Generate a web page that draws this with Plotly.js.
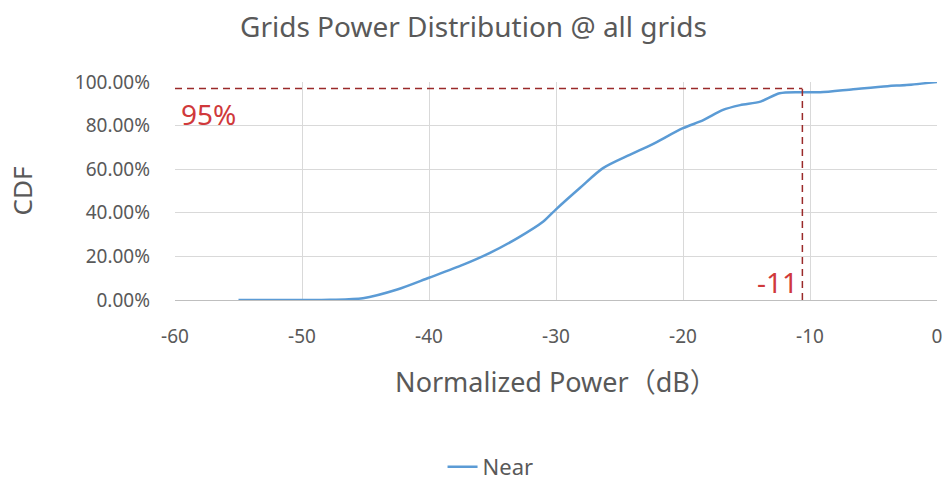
<!DOCTYPE html>
<html>
<head>
<meta charset="utf-8">
<script src="https://cdn.plot.ly/plotly-3.0.1.min.js"></script>
<style>html,body{margin:0;padding:0;background:#fff;}#chart{width:947px;height:483px;}</style>
</head>
<body>
<div id="chart"></div>
<script>
// Data
const seriesName = "Near";
const powerDb = [-55, -50, -47.8, -45.2, -42.5, -40, -37.3, -35.2, -33, -31, -30, -28.1, -26.3, -24.2, -22.5, -20, -18.4, -16.9, -15.5, -13.9, -12.4, -10.8, -9.2, -6.6, -3.9, -2.4, 0];
const cdf = [0, 0, 0.001, 0.008, 0.048, 0.102, 0.162, 0.216, 0.285, 0.36, 0.416, 0.515, 0.605, 0.666, 0.712, 0.788, 0.825, 0.871, 0.894, 0.91, 0.948, 0.953, 0.953, 0.967, 0.981, 0.986, 1.0];
const xTicks = [-60, -50, -40, -30, -20, -10, 0];
const yTicks = [0, 0.2, 0.4, 0.6, 0.8, 1.0];
const refLevel = 0.97;       // horizontal dashed marker level
const refPower = -10.6;      // vertical dashed marker position
const refLevelLabel = "95%";
const refPowerLabel = "-11";

const FONT = "Noto Sans, Noto Sans CJK SC, sans-serif";
const refColor = "#9a2a2a";
const labelColor = "#d0393b";
const textColor = "#595959";

const trace = {
  x: powerDb, y: cdf, name: seriesName, type: "scatter", mode: "lines",
  line: {color: "#5b9bd5", width: 2.5, shape: "spline", smoothing: 0.8}
};

const layout = {
  width: 947, height: 483,
  margin: {l: 175, r: 10, t: 82, b: 183},
  paper_bgcolor: "#ffffff", plot_bgcolor: "#ffffff",
  font: {family: FONT, color: textColor, size: 19},
  title: {text: "Grids Power Distribution @ all grids", x: 0.5, xanchor: "center", y: 1 - 27/483, yanchor: "middle",
          font: {family: FONT, size: 28, color: textColor}},
  xaxis: {
    range: [-60, 0], tickvals: xTicks, ticktext: xTicks.map(String),
    showgrid: true, gridcolor: "#d9d9d9", gridwidth: 1, zeroline: false,
    showline: true, linecolor: "#bfbfbf", linewidth: 1, ticks: "",
    ticklabelstandoff: 19,
    tickfont: {family: FONT, size: 19, color: textColor},
    title: {text: "Normalized Power（dB）", font: {family: FONT, size: 27, color: textColor}, standoff: 25}
  },
  yaxis: {
    range: [0, 1], tickvals: yTicks, tickformat: ".2%",
    showgrid: true, gridcolor: "#d9d9d9", gridwidth: 1, zeroline: false,
    showline: false, ticks: "", ticklabelstandoff: 24,
    tickfont: {family: FONT, size: 19, color: textColor},
    title: {text: "CDF", font: {family: FONT, size: 26, color: textColor}, standoff: 34}
  },
  showlegend: true,
  legend: {orientation: "h", xref: "container", yref: "container", x: 0.518, xanchor: "center", y: 1 - 467/483, yanchor: "middle",
           font: {family: FONT, size: 22, color: textColor}},
  shapes: [
    {type: "line", xref: "x", yref: "y", x0: -60, x1: refPower, y0: refLevel, y1: refLevel,
     line: {color: refColor, width: 1.5, dash: "7px,5px"}},
    {type: "line", xref: "x", yref: "y", x0: refPower, x1: refPower, y0: 0, y1: refLevel,
     line: {color: refColor, width: 1.5, dash: "7px,5px"}}
  ],
  annotations: [
    {xref: "x", yref: "y", x: -59.7, y: 0.855, xanchor: "left", yanchor: "middle", showarrow: false,
     text: refLevelLabel, font: {family: FONT, size: 28, color: labelColor}},
    {xref: "x", yref: "y", x: refPower - 0.2, y: 0.083, xanchor: "right", yanchor: "middle", showarrow: false,
     text: refPowerLabel, font: {family: FONT, size: 28, color: labelColor}}
  ]
};

Plotly.newPlot("chart", [trace], layout, {displayModeBar: false, staticPlot: true});
</script>
</body>
</html>
